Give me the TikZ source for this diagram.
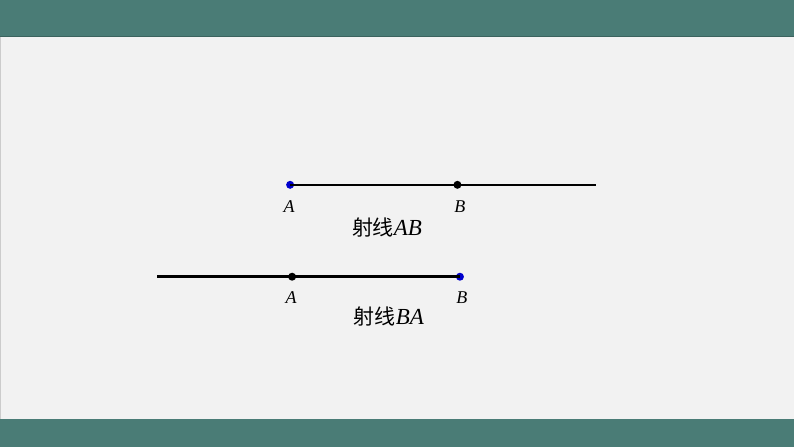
\documentclass[tikz,border=0pt]{standalone}
\usepackage{fontspec}
\setmainfont{Liberation Serif}
\newfontfamily\cjk{Noto Sans CJK SC}
\definecolor{bandteal}{RGB}{74, 124, 118}
\definecolor{bgray}{RGB}{242, 242, 242}
\definecolor{dotblue}{RGB}{0, 0, 205}
\usetikzlibrary{positioning}

\begin{document}
\begin{tikzpicture}[x=1pt, y=-1pt,
  ray/.style={line width=2.6pt, black},
  pt/.style={circle, fill=black, inner sep=0pt, minimum size=8pt},
  ptend/.style={pt, fill=dotblue},
  lab/.style={font=\fontsize{18}{20}\selectfont\itshape, inner sep=0pt},
  raytext/.style={font=\fontsize{21}{24}\selectfont, inner sep=0pt},
]
% Background
\fill[bgray] (0, 0) rectangle (794, 447);
\fill[bandteal] (0, 0) rectangle (794, 36);
\draw[bandteal!80!black, line width=0.8pt] (0, 36.4) -- (794, 36.4);
\fill[bandteal] (0, 419) rectangle (794, 447);
\draw[gray!40, line width=1pt] (0.5, 37) -- (0.5, 419);
\useasboundingbox (0, 0) rectangle (794, 447);

% Ray AB
\node[ptend] (a1) at (290, 185) {};
\node[pt] (b1) at (457.5, 185) {};
\coordinate (e1) at (596, 185);
\draw[ray] (a1.center) -- (b1.center) -- (e1);
\node[lab] (la1) at (289, 207) {A};
\node[lab] (lb1) at (460, 207) {B};
\node[raytext] (t1) at (387, 228) {{\cjk 射线}{\fontsize{23}{24}\selectfont\itshape AB}};

% Ray BA
\coordinate (e2) at (157, 277);
\node[pt] (a2) at (292, 277) {};
\node[ptend] (b2) at (460, 277) {};
\draw[ray] (b2.center) -- (a2.center) -- (e2);
\node[lab] (la2) at (291, 298) {A};
\node[lab] (lb2) at (462, 298) {B};
\node[raytext] (t2) at (389, 317) {{\cjk 射线}{\fontsize{23}{24}\selectfont\itshape BA}};
\end{tikzpicture}
\end{document}
